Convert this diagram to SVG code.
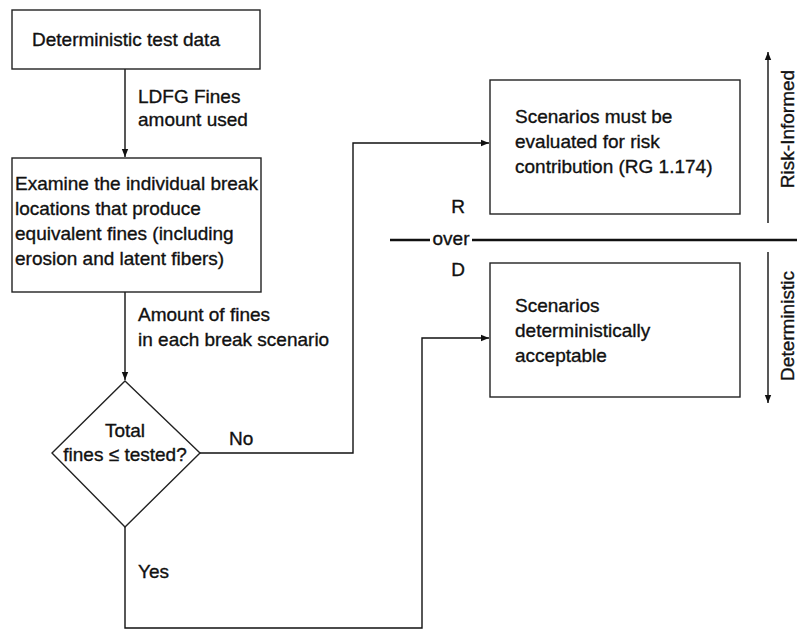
<svg xmlns="http://www.w3.org/2000/svg" width="797" height="630" viewBox="0 0 797 630">
<defs>
<marker id="ah" viewBox="0 0 10 10" refX="10" refY="5" markerWidth="8" markerHeight="8" markerUnits="userSpaceOnUse" orient="auto">
<path d="M0,1 L10,5 L0,9 z" fill="#111"/>
</marker>
<style>
text{font-family:"Liberation Sans","Open Sans",sans-serif;font-size:19px;fill:#111;stroke:#111;stroke-width:0.35}
.box{fill:#fff;stroke:#222;stroke-width:1.4}
.ln{fill:none;stroke:#111;stroke-width:1.4}
.thick{fill:none;stroke:#111;stroke-width:2.5}
</style>
</defs>
<rect width="797" height="630" fill="#fff"/>
<g id="connectors">
<path class="ln" d="M125,69 V157" marker-end="url(#ah)"/>
<path class="ln" d="M125,292 V380" marker-end="url(#ah)"/>
<path class="ln" d="M200,453 H353 V143 H489" marker-end="url(#ah)"/>
<path class="ln" d="M125,527 V628 H422 V338 H489" marker-end="url(#ah)"/>
<text x="138" y="103">LDFG Fines</text>
<text x="138" y="126">amount used</text>
<text x="138" y="321">Amount of fines</text>
<text x="138" y="346">in each break scenario</text>
<text x="229" y="445">No</text>
<text x="138" y="578">Yes</text>
</g>
<g id="n1">
<rect class="box" x="12" y="10" width="248" height="59"/>
<text x="32" y="46">Deterministic test data</text>
</g>
<g id="n2">
<rect class="box" x="12" y="158" width="249" height="134"/>
<text x="15" y="190">Examine the individual break</text>
<text x="15" y="215">locations that produce</text>
<text x="15" y="240">equivalent fines (including</text>
<text x="15" y="265">erosion and latent fibers)</text>
</g>
<g id="n3">
<path class="box" d="M125,381 L200,453 L125,527 L52,453 Z"/>
<text x="125" y="437" text-anchor="middle">Total</text>
<text x="125" y="461" text-anchor="middle">fines ≤ tested?</text>
</g>
<g id="n4">
<rect class="box" x="490" y="80" width="250" height="134"/>
<text x="515" y="123">Scenarios must be</text>
<text x="515" y="148">evaluated for risk</text>
<text x="515" y="173">contribution (RG 1.174)</text>
</g>
<g id="n5">
<rect class="box" x="490" y="263" width="250" height="134"/>
<text x="515" y="312">Scenarios</text>
<text x="515" y="337">deterministically</text>
<text x="515" y="362">acceptable</text>
</g>
<g id="divider">
<line class="thick" x1="390" y1="240" x2="430" y2="240"/>
<line class="thick" x1="472" y1="240" x2="797" y2="240"/>
<text x="451" y="245" text-anchor="middle">over</text>
<text x="458" y="213" text-anchor="middle">R</text>
<text x="458" y="276" text-anchor="middle">D</text>
<path class="ln" d="M768,223 V52" marker-end="url(#ah)"/>
<path class="ln" d="M768,252 V403" marker-end="url(#ah)"/>
<text transform="translate(794,129) rotate(-90)" text-anchor="middle">Risk-Informed</text>
<text transform="translate(794,326) rotate(-90)" text-anchor="middle">Deterministic</text>
</g>
</svg>
